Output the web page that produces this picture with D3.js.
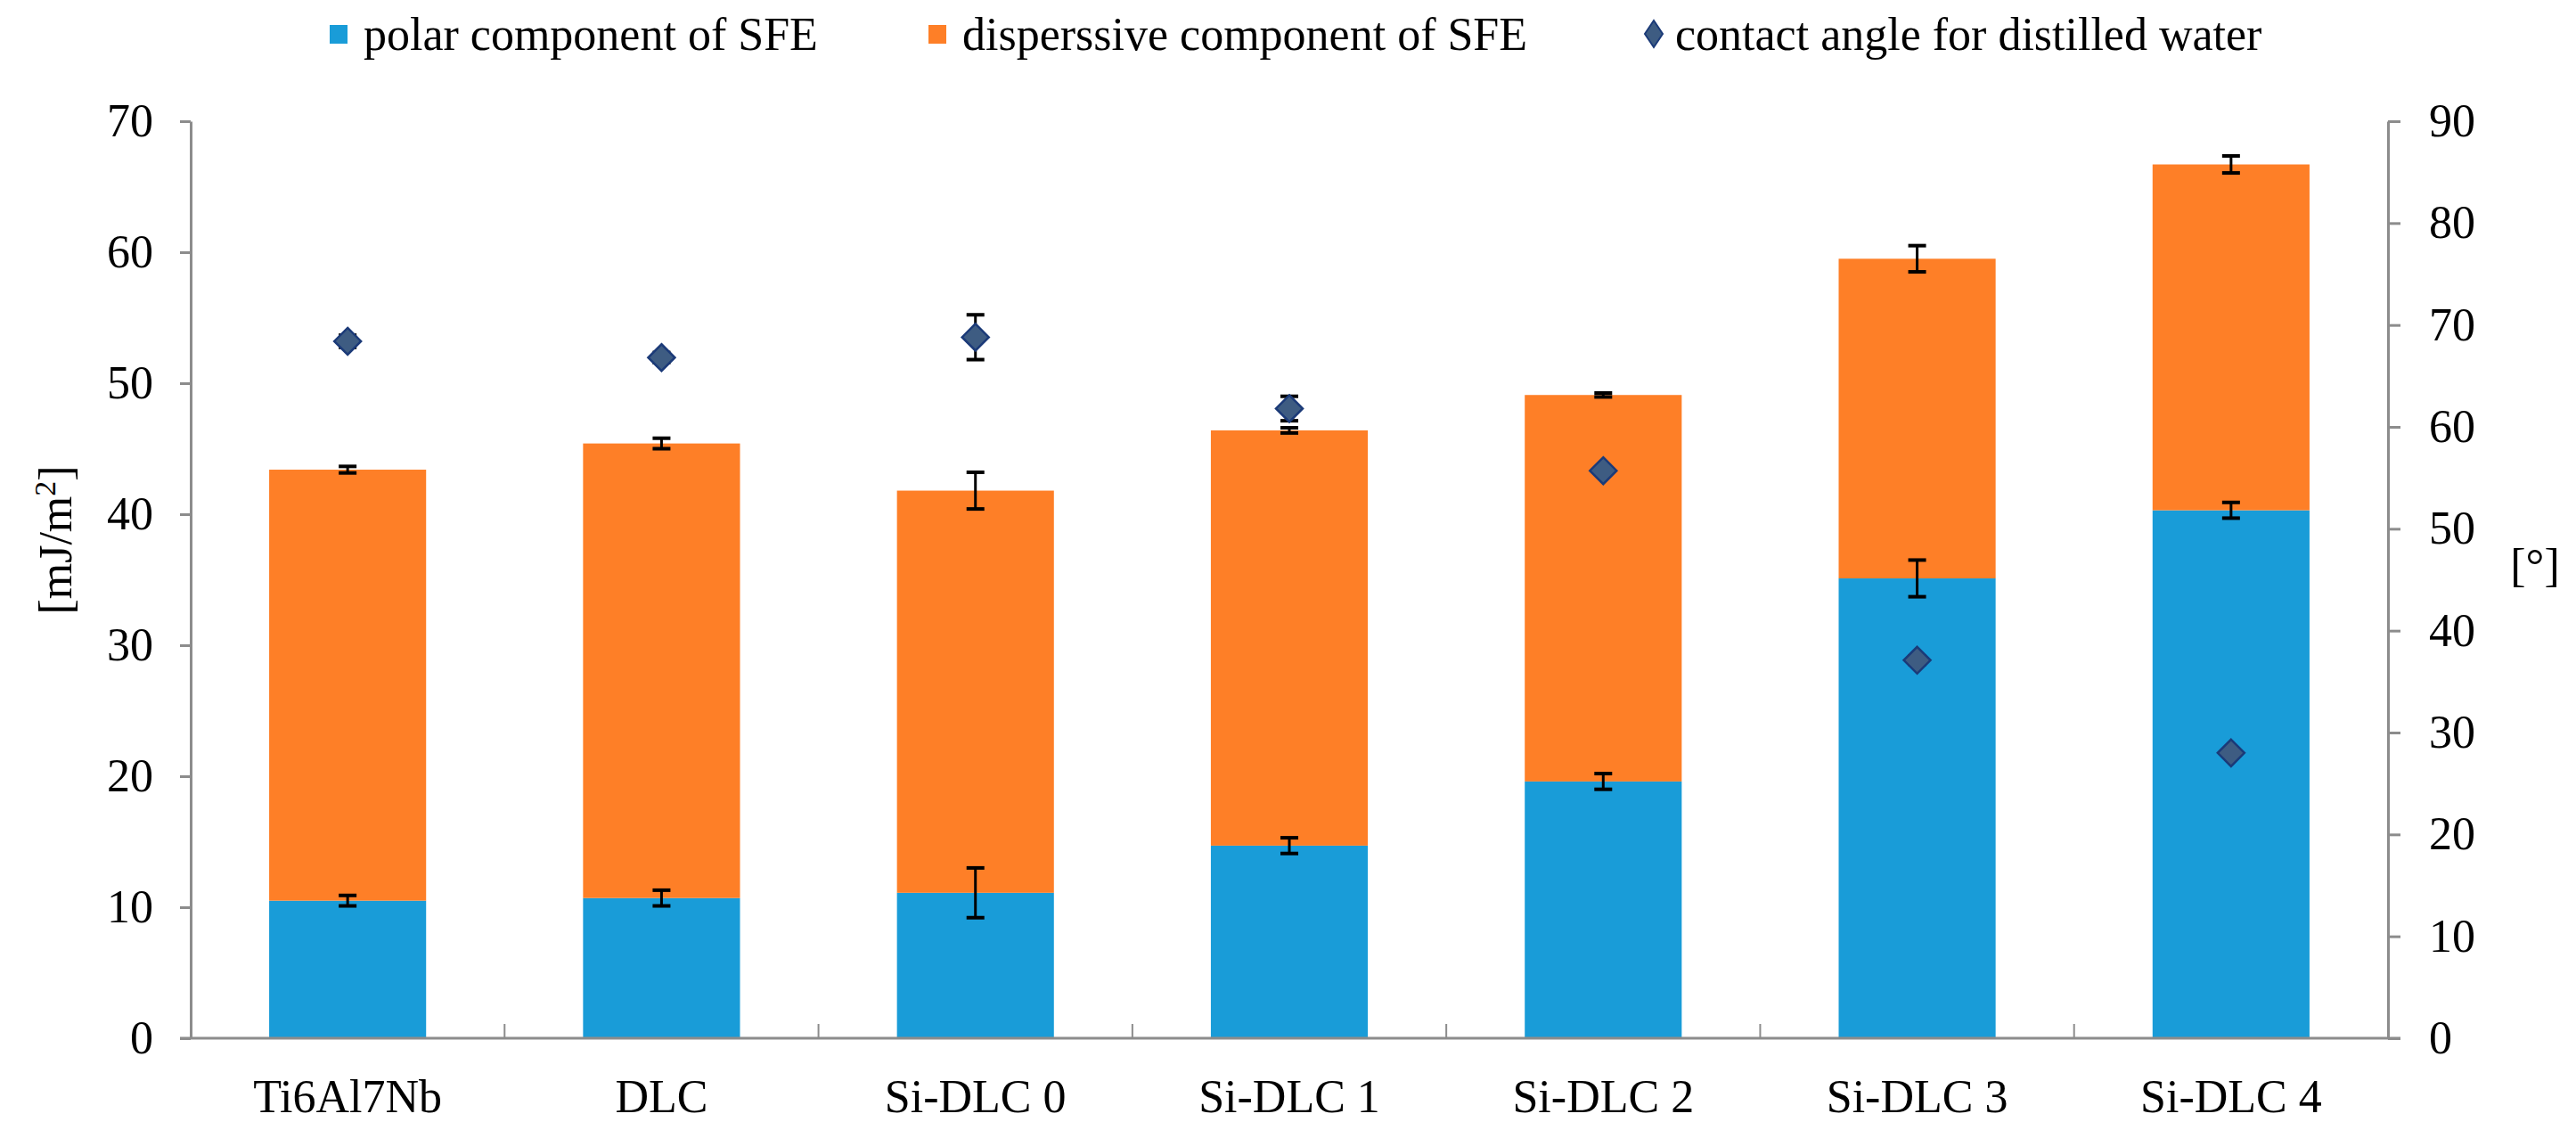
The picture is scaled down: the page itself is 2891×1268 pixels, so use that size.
<!DOCTYPE html>
<html>
<head>
<meta charset="utf-8">
<script src="https://cdn.jsdelivr.net/npm/d3@7"></script>
<style>
  body { margin: 0; background: #fff; }
  text { font-family: "Liberation Serif", "Times New Roman", serif; fill: #000; }
</style>
</head>
<body>
<svg width="2891" height="1268"></svg>
<script>
const categories = ["Ti6Al7Nb", "DLC", "Si-DLC 0", "Si-DLC 1", "Si-DLC 2", "Si-DLC 3", "Si-DLC 4"];
const polar = [10.5, 10.7, 11.1, 14.7, 19.6, 35.1, 40.3];
const polarErr = [0.4, 0.6, 1.9, 0.6, 0.6, 1.4, 0.6];
const dispersive = [32.9, 34.7, 30.7, 31.7, 29.5, 24.4, 26.4];
const totalErr = [0.25, 0.4, 1.4, 0.2, 0.15, 1.0, 0.65];
const angle = [68.4, 66.8, 68.8, 61.8, 55.7, 37.1, 28.0];
const angleErr = [0.6, 0.5, 2.2, 1.2, 0.3, 0.4, 0.3];
const leftTicks = [0, 10, 20, 30, 40, 50, 60, 70];
const rightTicks = [0, 10, 20, 30, 40, 50, 60, 70, 80, 90];

const blue = "#199cd8";
const orange = "#fe7f27";
const axisGrey = "#8c8c8c";

const svg = d3.select("svg");
const plotLeft = 214, plotRight = 2680, plotTop = 136, plotBottom = 1165;

const x = d3.scaleBand().domain(categories).range([plotLeft, plotRight])
  .paddingInner(0.5).paddingOuter(0.25);
const yL = d3.scaleLinear().domain([0, 70]).range([plotBottom, plotTop]);
const yR = d3.scaleLinear().domain([0, 90]).range([plotBottom, plotTop]);

const rows = categories.map((c, i) => ({
  cat: c, polar: polar[i], disp: dispersive[i], total: polar[i] + dispersive[i],
  pe: polarErr[i], te: totalErr[i], ang: angle[i], ae: angleErr[i]
}));

// bars
svg.append("g").selectAll("rect").data(rows).enter().append("rect")
  .attr("x", d => x(d.cat)).attr("width", x.bandwidth())
  .attr("y", d => yL(d.polar)).attr("height", d => yL(0) - yL(d.polar))
  .attr("fill", blue);
svg.append("g").selectAll("rect").data(rows).enter().append("rect")
  .attr("x", d => x(d.cat)).attr("width", x.bandwidth())
  .attr("y", d => yL(d.total)).attr("height", d => yL(d.polar) - yL(d.total))
  .attr("fill", orange);

// axes
const gl = svg.append("g").attr("transform", `translate(${plotLeft},0)`)
  .call(d3.axisLeft(yL).tickValues(leftTicks).tickSize(12).tickSizeOuter(0).tickPadding(30));
const gr = svg.append("g").attr("transform", `translate(${plotRight},0)`)
  .call(d3.axisRight(yR).tickValues(rightTicks).tickSize(14).tickSizeOuter(0).tickPadding(32));
[gl, gr].forEach(g => {
  g.select(".domain").attr("stroke", axisGrey).attr("stroke-width", 3);
  g.selectAll(".tick line").attr("stroke", axisGrey).attr("stroke-width", 3);
  g.selectAll(".tick text").style("font-size", "52px").attr("font-family", "Liberation Serif");
});

const gb = svg.append("g").attr("transform", `translate(0,${plotBottom})`)
  .call(d3.axisBottom(x).tickSize(0).tickPadding(46));
gb.select(".domain").attr("stroke", axisGrey).attr("stroke-width", 3)
  .attr("d", `M${plotLeft - 12},0H${plotRight + 14}`);
gb.selectAll(".tick text").style("font-size", "52px").attr("font-family", "Liberation Serif");
svg.append("g").selectAll("line").data(categories.slice(1)).enter().append("line")
  .attr("x1", d => x(d) - x.step() * x.paddingInner() / 2)
  .attr("x2", d => x(d) - x.step() * x.paddingInner() / 2)
  .attr("y1", plotBottom).attr("y2", plotBottom - 16)
  .attr("stroke", axisGrey).attr("stroke-width", 2);

// error bars
function errBar(g, cx, y1, y2) {
  g.append("line").attr("x1", cx).attr("x2", cx).attr("y1", y1).attr("y2", y2)
    .attr("stroke", "#000").attr("stroke-width", 3);
  [y1, y2].forEach(yy => g.append("line").attr("x1", cx - 10).attr("x2", cx + 10)
    .attr("y1", yy).attr("y2", yy).attr("stroke", "#000").attr("stroke-width", 4));
}
const ge = svg.append("g");
rows.forEach(d => {
  const cx = x(d.cat) + x.bandwidth() / 2;
  errBar(ge, cx, yL(d.polar - d.pe), yL(d.polar + d.pe));
  errBar(ge, cx, yL(d.total - d.te), yL(d.total + d.te));
  errBar(ge, cx, yR(d.ang - d.ae), yR(d.ang + d.ae));
});

// contact angle markers
const diamond = "M0,-15L15,0L0,15L-15,0Z";
svg.append("g").selectAll("path").data(rows).enter().append("path")
  .attr("d", diamond)
  .attr("transform", d => `translate(${x(d.cat) + x.bandwidth() / 2},${yR(d.ang)})`)
  .attr("fill", "#3e5c82").attr("stroke", "#1b3a78").attr("stroke-width", 2.5);

// axis titles
const yt = svg.append("text").attr("transform", "translate(80,606) rotate(-90)")
  .attr("text-anchor", "middle").style("font-size", "52px");
yt.append("tspan").text("[mJ/m");
yt.append("tspan").attr("dy", -18).style("font-size", "34px").text("2");
yt.append("tspan").attr("dy", 18).text("]");
svg.append("text").attr("x", 2845).attr("y", 652).attr("text-anchor", "middle")
  .style("font-size", "52px").text("[°]");

// legend
const legend = [
  { label: "polar component of SFE", kind: "rect", color: blue, x: 370 },
  { label: "disperssive component of SFE", kind: "rect", color: orange, x: 1042 },
  { label: "contact angle for distilled water", kind: "diamond", x: 1842 }
];
const lg = svg.append("g");
legend.forEach(l => {
  if (l.kind === "rect") {
    lg.append("rect").attr("x", l.x).attr("y", 28).attr("width", 20).attr("height", 21).attr("fill", l.color);
  } else {
    lg.append("path").attr("d", "M0,-15L10,0L0,15L-10,0Z")
      .attr("transform", `translate(${l.x + 14},38)`)
      .attr("fill", "#3e5c82").attr("stroke", "#1b3a78").attr("stroke-width", 2);
  }
  lg.append("text").attr("x", l.x + 38).attr("y", 56).style("font-size", "52px").text(l.label);
});
</script>
</body>
</html>
